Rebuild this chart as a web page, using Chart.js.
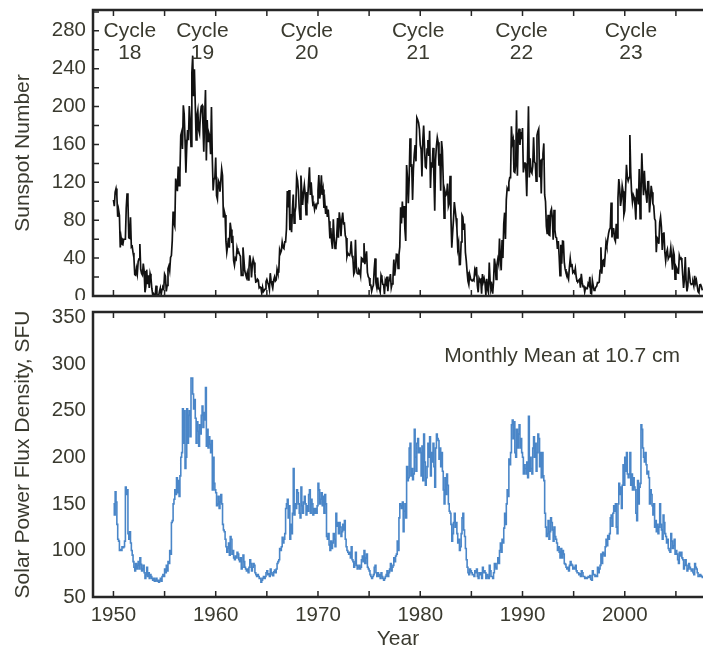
<!DOCTYPE html>
<html>
<head>
<meta charset="utf-8">
<title>Sunspot Number and 10.7 cm Solar Flux</title>
<script src="https://cdn.jsdelivr.net/npm/chart.js@4.4.1/dist/chart.umd.min.js"></script>
<style>
  html, body { margin: 0; padding: 0; background: #fff; }
  #wrap { position: relative; width: 703px; height: 645px; overflow: hidden; }
  #sunspots { position: absolute; left: 0; top: 0; }
  #flux { position: absolute; left: 0; top: 300px; }
</style>
</head>
<body>
<div id="wrap">
  <canvas id="sunspots" width="703" height="300"></canvas>
  <canvas id="flux" width="703" height="352"></canvas>
</div>
<script>
// Monthly values, one row per year, starting January 1950
const startYear = 1950;

const sunspotNumber = [
  101.6, 94.8, 109.7, 113.4, 106.2, 83.6, 91.0, 85.2, 51.3, 61.4, 54.8, 54.1, // 1950
  59.9, 59.9, 59.9, 92.9, 108.5, 100.6, 61.5, 61.0, 83.1, 51.6, 52.4, 45.8, // 1951
  40.7, 22.7, 22.0, 29.1, 23.4, 36.4, 39.3, 54.9, 28.2, 23.8, 22.1, 34.3, // 1952
  26.5, 3.9, 10.0, 27.8, 12.5, 21.8, 8.6, 23.5, 19.3, 8.2, 1.6, 2.5, // 1953
  0.2, 0.5, 10.9, 1.8, 0.8, 0.2, 4.8, 8.4, 1.5, 7.0, 9.2, 7.6, // 1954
  23.1, 20.8, 4.9, 11.3, 28.9, 31.7, 26.7, 40.7, 42.7, 58.5, 89.2, 76.9, // 1955
  73.6, 124.0, 118.4, 110.7, 136.6, 116.6, 129.1, 169.6, 173.2, 155.3, 201.3, 192.1, // 1956
  165.0, 130.2, 157.4, 175.2, 164.6, 200.7, 187.2, 158.0, 235.8, 253.8, 210.9, 239.4, // 1957
  202.5, 164.9, 190.7, 196.0, 175.3, 171.5, 191.4, 200.2, 201.2, 181.5, 152.3, 187.6, // 1958
  217.4, 143.1, 185.7, 163.3, 172.0, 168.7, 149.6, 199.6, 145.2, 111.4, 124.0, 125.0, // 1959
  146.3, 106.0, 102.2, 122.0, 119.6, 110.2, 121.7, 134.1, 127.2, 82.8, 89.6, 85.6, // 1960
  57.9, 46.1, 53.0, 61.4, 51.0, 77.4, 70.2, 55.9, 63.6, 37.7, 32.6, 40.0, // 1961
  38.7, 50.3, 45.6, 46.4, 43.7, 42.0, 21.8, 21.8, 51.3, 39.5, 26.9, 23.2, // 1962
  19.8, 24.4, 17.1, 29.3, 43.0, 35.9, 19.6, 33.2, 38.8, 35.3, 23.4, 14.9, // 1963
  15.3, 17.7, 16.5, 8.6, 9.5, 9.1, 3.1, 9.3, 4.7, 6.1, 7.4, 15.1, // 1964
  17.5, 14.2, 11.7, 6.8, 24.1, 15.9, 11.9, 8.9, 16.8, 20.1, 15.8, 17.0, // 1965
  28.2, 24.4, 25.3, 48.7, 45.3, 47.7, 56.7, 51.2, 50.2, 57.2, 57.2, 70.4, // 1966
  110.9, 93.6, 111.8, 69.5, 86.5, 67.3, 91.5, 107.2, 76.8, 88.2, 94.3, 126.4, // 1967
  121.8, 111.9, 92.2, 81.2, 127.2, 110.3, 96.1, 109.3, 117.2, 107.7, 86.0, 109.8, // 1968
  104.4, 120.5, 135.8, 106.8, 120.0, 106.0, 96.8, 98.0, 91.3, 95.7, 93.5, 97.9, // 1969
  111.5, 127.8, 102.9, 109.5, 127.5, 106.8, 112.5, 93.0, 99.5, 86.6, 95.2, 83.5, // 1970
  91.3, 79.0, 60.7, 71.8, 57.5, 49.8, 81.0, 61.4, 50.2, 51.7, 63.2, 82.2, // 1971
  61.5, 88.4, 80.1, 63.2, 80.5, 88.0, 76.5, 76.8, 64.0, 61.3, 41.6, 45.3, // 1972
  43.4, 42.9, 46.0, 57.7, 42.4, 39.5, 23.1, 25.6, 59.3, 30.7, 23.9, 23.3, // 1973
  27.6, 26.0, 21.3, 40.3, 39.5, 36.0, 55.8, 33.6, 40.2, 47.1, 25.0, 20.5, // 1974
  18.9, 11.5, 11.5, 5.1, 9.0, 11.4, 28.2, 39.7, 13.9, 9.1, 19.4, 7.8, // 1975
  8.1, 4.3, 21.9, 18.8, 12.4, 12.2, 1.9, 16.4, 13.5, 20.6, 5.2, 15.3, // 1976
  16.4, 23.1, 8.7, 12.9, 18.6, 38.5, 21.4, 30.1, 44.0, 43.8, 29.1, 43.2, // 1977
  51.9, 93.6, 76.5, 99.7, 82.7, 95.1, 70.4, 58.1, 138.2, 125.1, 97.9, 122.7, // 1978
  166.6, 137.5, 138.0, 101.5, 134.4, 149.5, 159.4, 142.2, 188.4, 186.2, 183.3, 176.3, // 1979
  159.6, 155.0, 126.2, 164.1, 179.9, 157.3, 136.3, 135.4, 155.0, 164.7, 147.9, 174.4, // 1980
  114.0, 141.3, 135.5, 156.4, 127.5, 90.0, 143.8, 158.7, 167.3, 162.4, 137.5, 150.1, // 1981
  111.2, 163.6, 153.8, 122.0, 82.2, 110.4, 106.1, 107.6, 118.8, 94.7, 98.1, 127.0, // 1982
  84.3, 51.0, 66.5, 80.7, 99.2, 91.1, 82.2, 71.8, 50.3, 55.8, 33.3, 33.4, // 1983
  57.0, 85.4, 83.5, 69.7, 76.4, 46.1, 37.4, 25.5, 15.7, 12.0, 22.8, 18.7, // 1984
  16.5, 15.9, 17.2, 16.2, 27.5, 24.2, 30.7, 11.1, 3.9, 18.6, 16.2, 17.3, // 1985
  2.5, 23.2, 15.1, 18.5, 13.7, 1.1, 18.1, 7.4, 3.8, 35.4, 15.2, 6.8, // 1986
  10.4, 2.4, 14.7, 39.6, 33.0, 17.4, 33.0, 38.7, 33.9, 60.6, 39.9, 27.1, // 1987
  59.0, 40.0, 76.2, 88.0, 60.1, 101.8, 113.8, 111.6, 120.1, 125.1, 125.1, 179.2, // 1988
  161.3, 165.1, 131.4, 130.5, 138.5, 196.2, 126.9, 168.9, 176.7, 159.4, 173.0, 165.5, // 1989
  177.3, 130.5, 140.3, 140.3, 132.2, 105.4, 149.4, 200.3, 125.2, 145.5, 131.4, 129.7, // 1990
  136.9, 167.5, 141.9, 140.0, 121.3, 169.7, 173.7, 176.3, 125.3, 144.1, 108.2, 144.4, // 1991
  150.0, 161.1, 106.7, 99.8, 73.8, 65.2, 85.7, 64.5, 63.9, 88.7, 91.8, 82.6, // 1992
  59.3, 91.0, 69.8, 62.2, 61.3, 49.8, 57.9, 42.3, 21.4, 54.1, 34.0, 58.0, // 1993
  57.7, 35.8, 28.6, 24.8, 25.0, 20.3, 17.6, 30.1, 39.5, 31.2, 33.9, 24.8, // 1994
  26.2, 24.4, 29.2, 20.3, 15.5, 15.2, 16.5, 17.6, 8.8, 23.5, 14.6, 9.8, // 1995
  11.2, 4.3, 8.8, 7.9, 7.8, 13.2, 11.3, 20.3, 2.9, 2.3, 16.5, 10.8, // 1996
  6.0, 6.9, 9.2, 10.2, 14.2, 13.9, 14.6, 27.0, 51.4, 23.6, 37.0, 37.9, // 1997
  30.6, 43.1, 56.7, 52.3, 59.7, 66.2, 70.1, 71.9, 98.6, 61.9, 71.1, 70.8, // 1998
  60.3, 57.7, 76.2, 61.4, 102.9, 123.5, 114.0, 95.2, 102.0, 116.3, 110.6, 85.9, // 1999
  90.1, 112.9, 138.5, 125.5, 121.6, 124.9, 170.1, 130.5, 109.7, 99.4, 106.8, 104.4, // 2000
  95.6, 80.6, 113.5, 107.7, 96.6, 134.0, 81.8, 106.4, 150.7, 125.5, 106.5, 132.2, // 2001
  114.1, 107.4, 98.4, 120.7, 120.8, 88.3, 99.6, 116.4, 109.6, 97.5, 95.0, 81.6, // 2002
  79.5, 46.2, 61.5, 60.0, 55.2, 77.4, 83.3, 72.7, 48.7, 65.5, 67.3, 46.5, // 2003
  37.3, 45.8, 49.1, 39.3, 41.5, 43.2, 51.1, 40.9, 27.7, 48.0, 43.5, 17.9, // 2004
  31.3, 29.2, 24.5, 24.2, 42.7, 39.3, 40.1, 36.4, 22.1, 8.5, 18.0, 41.2, // 2005
  15.3, 4.9, 10.6, 30.2, 22.3, 13.9, 12.2, 12.9, 14.4, 10.5, 21.4, 13.6, // 2006
  16.8, 10.7, 4.5, 3.4, 11.7, 12.1, 9.7, 6.0 // 2007
];

const fluxMonthly = [
  150, 138, 163, 152, 128, 112, 110, 100, 101, 100, 104, 103, // 1950
  104, 110, 168, 160, 165, 118, 112, 120, 108, 100, 95, 88, // 1951
  82, 78, 86, 80, 84, 88, 80, 92, 85, 78, 80, 84, // 1952
  76, 70, 74, 82, 72, 76, 70, 74, 72, 70, 68, 70, // 1953
  67, 68, 70, 67, 68, 66, 68, 70, 67, 72, 74, 72, // 1954
  80, 76, 84, 78, 88, 86, 100, 96, 130, 132, 150, 155, // 1955
  165, 160, 178, 162, 175, 158, 180, 200, 205, 252, 215, 250, // 1956
  188, 200, 252, 215, 245, 250, 222, 285, 285, 268, 252, 262, // 1957
  242, 215, 238, 228, 212, 235, 225, 245, 255, 232, 248, 240, // 1958
  275, 212, 230, 210, 222, 214, 205, 218, 165, 200, 172, 165, // 1959
  162, 148, 150, 158, 145, 152, 160, 150, 128, 122, 120, 112, // 1960
  104, 98, 102, 108, 95, 115, 112, 96, 100, 92, 90, 94, // 1961
  92, 98, 96, 90, 88, 92, 80, 82, 95, 88, 82, 80, // 1962
  78, 80, 76, 82, 90, 86, 78, 82, 86, 84, 76, 74, // 1963
  72, 74, 72, 70, 70, 66, 68, 70, 72, 70, 72, 76, // 1964
  78, 74, 75, 72, 80, 76, 74, 73, 77, 79, 76, 80, // 1965
  86, 88, 90, 102, 100, 104, 114, 108, 112, 118, 145, 150, // 1966
  155, 135, 148, 112, 128, 118, 140, 188, 138, 150, 145, 165, // 1967
  162, 150, 140, 135, 168, 148, 140, 152, 158, 150, 138, 148, // 1968
  142, 160, 165, 140, 155, 150, 138, 145, 140, 145, 140, 148, // 1969
  172, 165, 150, 155, 162, 148, 158, 140, 160, 150, 115, 112, // 1970
  118, 106, 100, 110, 102, 108, 118, 112, 104, 140, 126, 130, // 1971
  118, 130, 125, 115, 120, 128, 122, 132, 112, 104, 100, 98, // 1972
  96, 98, 92, 104, 90, 88, 82, 86, 98, 84, 80, 82, // 1973
  84, 80, 82, 90, 94, 88, 100, 86, 92, 96, 82, 80, // 1974
  78, 74, 72, 70, 72, 74, 82, 84, 76, 72, 76, 72, // 1975
  74, 70, 76, 72, 70, 68, 70, 72, 74, 78, 72, 76, // 1976
  80, 86, 78, 82, 84, 92, 88, 94, 96, 110, 100, 135, // 1977
  150, 148, 145, 152, 120, 142, 150, 135, 190, 175, 178, 210, // 1978
  215, 180, 188, 176, 182, 230, 200, 185, 215, 220, 205, 210, // 1979
  205, 180, 212, 175, 225, 195, 170, 178, 190, 215, 200, 222, // 1980
  180, 205, 195, 215, 190, 168, 210, 225, 220, 218, 198, 210, // 1981
  190, 205, 185, 165, 150, 178, 160, 182, 170, 150, 142, 140, // 1982
  128, 110, 118, 130, 140, 125, 130, 118, 108, 112, 100, 104, // 1983
  118, 135, 140, 122, 115, 102, 90, 82, 76, 74, 80, 78, // 1984
  76, 74, 74, 72, 78, 76, 80, 72, 70, 76, 74, 76, // 1985
  70, 82, 76, 78, 76, 70, 74, 72, 70, 84, 78, 72, // 1986
  72, 70, 76, 86, 82, 80, 86, 92, 86, 100, 108, 98, // 1987
  112, 108, 124, 140, 128, 150, 165, 158, 198, 192, 205, 235, // 1988
  240, 220, 238, 205, 200, 230, 210, 225, 235, 210, 220, 205, // 1989
  200, 182, 192, 188, 182, 195, 178, 244, 185, 200, 188, 182, // 1990
  210, 222, 200, 215, 185, 205, 225, 220, 190, 205, 178, 205, // 1991
  180, 175, 140, 125, 115, 118, 132, 112, 120, 135, 130, 122, // 1992
  110, 125, 115, 112, 108, 100, 104, 98, 92, 102, 92, 100, // 1993
  96, 86, 85, 82, 80, 82, 78, 84, 88, 85, 84, 80, // 1994
  82, 80, 84, 78, 76, 76, 74, 75, 72, 78, 76, 72, // 1995
  72, 70, 71, 70, 71, 72, 71, 73, 69, 68, 78, 74, // 1996
  74, 72, 73, 72, 82, 76, 80, 84, 96, 86, 98, 96, // 1997
  94, 104, 112, 105, 116, 112, 118, 135, 138, 126, 140, 148, // 1998
  142, 150, 125, 118, 150, 172, 160, 168, 145, 170, 192, 170, // 1999
  200, 185, 205, 182, 178, 182, 205, 170, 182, 165, 178, 168, // 2000
  165, 140, 132, 175, 150, 168, 172, 235, 230, 210, 200, 195, // 2001
  205, 192, 182, 185, 178, 150, 165, 160, 148, 138, 150, 125, // 2002
  132, 120, 128, 118, 125, 150, 128, 122, 112, 138, 130, 118, // 2003
  115, 108, 112, 102, 100, 98, 118, 110, 102, 105, 112, 96, // 2004
  100, 96, 90, 86, 98, 94, 98, 92, 90, 80, 84, 90, // 2005
  84, 78, 80, 86, 82, 80, 78, 80, 76, 74, 86, 82, // 2006
  80, 76, 72, 72, 74, 73, 72, 70 // 2007
];

const sunspotTicks = [0, 40, 80, 120, 160, 200, 240, 280];
const sunspotMinorTicks = [20, 40, 60, 80, 100, 120, 140, 160, 180, 200, 220, 240, 260, 280, 300];
const fluxTicks = [50, 100, 150, 200, 250, 300, 350];
const yearTicks = [1950, 1960, 1970, 1980, 1990, 2000];
const yearMinorTicks = [1950, 1955, 1960, 1965, 1970, 1975, 1980, 1985, 1990, 1995, 2000, 2005];
const cycleNames = ["18", "19", "20", "21", "22", "23"];
const cycleYears = [1951.6, 1958.7, 1968.9, 1979.8, 1989.9, 2000.6];

const textColor = "#3a3a2f";
const frameColor = "#262626";
const fontFamily = "'Liberation Sans', Arial, sans-serif";
const tickFont = { family: fontFamily, size: 20.5 };
const titleFont = { family: fontFamily, size: 21 };

function toPoints(values) {
  return values.map((v, i) => ({ x: startYear + i / 12, y: v }));
}

// Frame on three sides with inward tick marks
const framePlugin = {
  id: "frame",
  afterDraw(chart, args, opts) {
    const { ctx, chartArea: a, scales } = chart;
    ctx.save();
    ctx.strokeStyle = frameColor;
    ctx.lineWidth = 2.5;
    ctx.beginPath();
    ctx.moveTo(a.right + 2, a.top);
    ctx.lineTo(a.left, a.top);
    ctx.lineTo(a.left, a.bottom);
    ctx.lineTo(a.right + 2, a.bottom);
    ctx.stroke();
    ctx.lineWidth = 1.5;
    ctx.beginPath();
    yearMinorTicks.forEach((yr) => {
      const x = scales.x.getPixelForValue(yr);
      ctx.moveTo(x, a.top);
      ctx.lineTo(x, a.top + 6);
      ctx.moveTo(x, a.bottom);
      ctx.lineTo(x, a.bottom - 6);
    });
    (opts.yTicks || []).forEach((v) => {
      const y = scales.y.getPixelForValue(v);
      ctx.moveTo(a.left, y);
      ctx.lineTo(a.left + 6, y);
    });
    ctx.stroke();
    ctx.restore();
  },
};

// "Cycle NN" labels across the top panel
const cyclePlugin = {
  id: "cycles",
  afterDraw(chart) {
    const { ctx, scales } = chart;
    ctx.save();
    ctx.fillStyle = textColor;
    ctx.font = "21px " + fontFamily;
    ctx.textAlign = "center";
    ctx.textBaseline = "alphabetic";
    cycleNames.forEach((name, i) => {
      const x = scales.x.getPixelForValue(cycleYears[i]);
      ctx.fillText("Cycle", x, scales.y.getPixelForValue(274));
      ctx.fillText(name, x, scales.y.getPixelForValue(250));
    });
    ctx.restore();
  },
};

const noteP = {
  id: "note",
  afterDraw(chart) {
    const { ctx, scales } = chart;
    ctx.save();
    ctx.fillStyle = textColor;
    ctx.font = "21px " + fontFamily;
    ctx.textAlign = "right";
    ctx.textBaseline = "alphabetic";
    ctx.fillText("Monthly Mean at 10.7 cm", scales.x.getPixelForValue(2005.4), scales.y.getPixelForValue(302));
    ctx.restore();
  },
};

function yAxis(min, max, ticks, title) {
  return {
    min: min,
    max: max,
    afterFit: (s) => {
      s.width = 93;
      // labels may spill past the plot edges, don't reserve room for them
      s.paddingTop = 0;
      s.paddingBottom = 0;
    },
    afterBuildTicks: (s) => { s.ticks = ticks.map((v) => ({ value: v })); },
    grid: { display: false, drawTicks: false },
    border: { display: false },
    ticks: { padding: 7, color: textColor, font: tickFont, callback: (v) => String(v) },
    title: { display: true, text: title, color: textColor, font: titleFont, padding: { top: 11, bottom: 0 } },
  };
}

// Top: sunspot number
new Chart(document.getElementById("sunspots"), {
  type: "line",
  data: {
    datasets: [{
      data: toPoints(sunspotNumber),
      borderColor: "#111111",
      borderWidth: 1.7,
      pointRadius: 0,
      tension: 0,
    }],
  },
  options: {
    responsive: false,
    animation: false,
    devicePixelRatio: 1,
    layout: { padding: { top: 10, bottom: 4, left: 0, right: 0 } },
    plugins: {
      legend: { display: false },
      tooltip: { enabled: false },
      frame: { yTicks: sunspotMinorTicks },
    },
    scales: {
      x: { type: "linear", min: 1948, max: 2007.65, display: false },
      y: yAxis(0, 302, sunspotTicks, "Sunspot Number"),
    },
  },
  plugins: [framePlugin, cyclePlugin],
});

// Bottom: 10.7 cm solar flux (canvas runs a little past the page edge, like the original crop)
new Chart(document.getElementById("flux"), {
  type: "line",
  data: {
    datasets: [{
      data: toPoints(fluxMonthly),
      borderColor: "#4a86c8",
      borderWidth: 1.6,
      pointRadius: 0,
      stepped: true,
    }],
  },
  options: {
    responsive: false,
    animation: false,
    devicePixelRatio: 1,
    layout: { padding: { top: 12, bottom: 0, left: 0, right: 0 } },
    plugins: {
      legend: { display: false },
      tooltip: { enabled: false },
      frame: { yTicks: [] },
    },
    scales: {
      x: {
        type: "linear",
        min: 1948,
        max: 2007.65,
        afterFit: (s) => {
          s.height = 55;
          s.paddingLeft = 0;
          s.paddingRight = 0;
        },
        afterBuildTicks: (s) => { s.ticks = yearTicks.map((v) => ({ value: v })); },
        grid: { display: false, drawTicks: false },
        border: { display: false },
        ticks: { padding: 6, color: textColor, font: tickFont, maxRotation: 0, callback: (v) => String(v) },
        title: { display: true, text: "Year", color: textColor, font: titleFont, padding: { top: 0, bottom: 0 } },
      },
      y: yAxis(50, 356, fluxTicks, "Solar Power Flux Density, SFU"),
    },
  },
  plugins: [framePlugin, noteP],
});
</script>
</body>
</html>
